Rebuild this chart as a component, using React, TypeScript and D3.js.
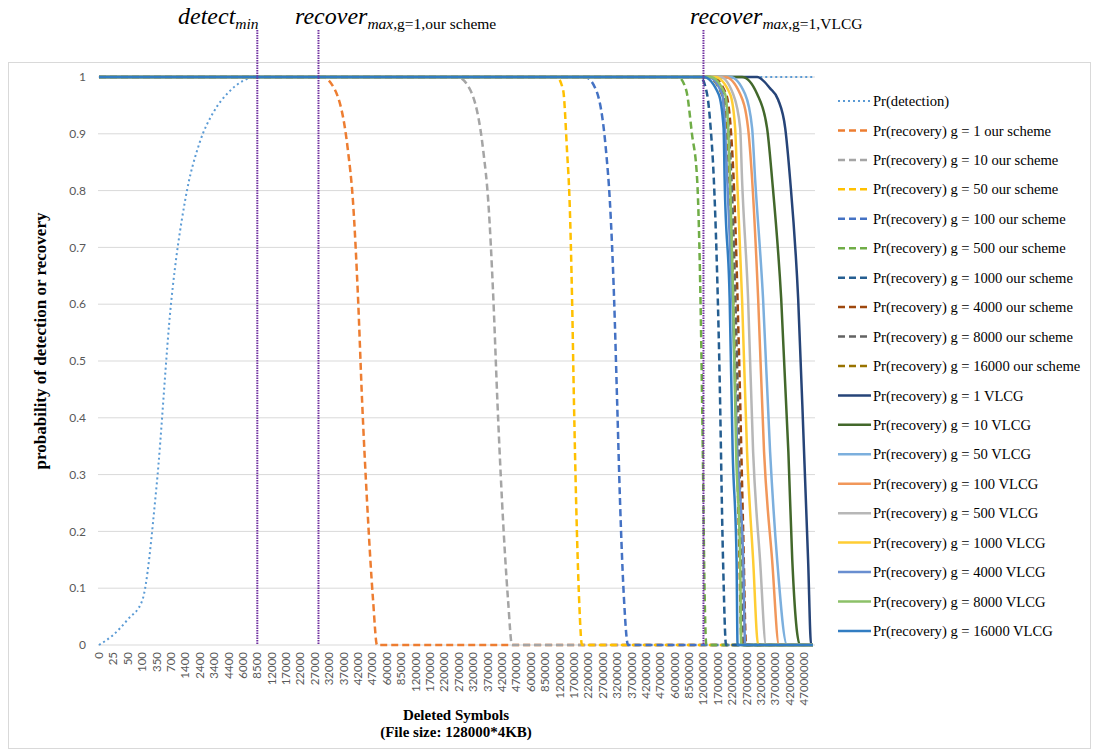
import { useEffect, useRef } from 'react'
import * as d3 from 'd3'

// x axis categories (deleted symbols)
const deletedSymbols = [
  '0', '25', '50', '100', '350', '700', '1400', '2400', '3400', '4400', '6000', '8500',
  '12000', '17000', '22000', '27000', '32000', '37000', '42000', '47000', '60000', '85000',
  '120000', '170000', '220000', '270000', '320000', '370000', '420000', '470000', '600000',
  '850000', '1200000', '1700000', '2200000', '2700000', '3200000', '3700000', '4200000',
  '4700000', '6000000', '8500000', '12000000', '17000000', '22000000', '27000000', '32000000',
  '37000000', '42000000', '47000000',
]
const yTicks = [0, 0.1, 0.2, 0.3, 0.4, 0.5, 0.6, 0.7, 0.8, 0.9, 1]

// [category position, probability]
const detection = [[0, 0], [1, 0.018], [2, 0.045], [3, 0.078], [4, 0.28], [5, 0.6], [6, 0.785], [7, 0.885], [8, 0.94], [9, 0.973], [10, 0.993], [11, 1], [49.6, 1]]
const ours1 = [[0, 1], [15.5, 1], [16.4, 0.977], [17.3, 0.87], [17.65, 0.78], [18.0, 0.61], [18.28, 0.43], [18.62, 0.255], [19.04, 0.08], [19.32, 0], [49.6, 0]]
const ours10 = [[0, 1], [24.9, 1], [25.8, 0.977], [26.7, 0.87], [27.05, 0.78], [27.4, 0.61], [27.68, 0.43], [28.0, 0.255], [28.42, 0.08], [28.7, 0], [49.6, 0]]
const ours50 = [[0, 1], [31.8, 1], [32.25, 0.977], [32.52, 0.87], [32.7, 0.78], [32.87, 0.61], [33.0, 0.43], [33.15, 0.255], [33.36, 0.08], [33.56, 0], [49.6, 0]]
const ours100 = [[0, 1], [33.77, 1], [34.54, 0.977], [35.23, 0.87], [35.5, 0.78], [35.79, 0.61], [36.0, 0.43], [36.2, 0.255], [36.48, 0.08], [36.76, 0], [49.6, 0]]
const ours500 = [[0, 1], [40.24, 1], [40.8, 0.977], [41.2, 0.9], [41.56, 0.82], [41.8, 0.6], [41.95, 0.35], [42.06, 0.12], [42.2, 0], [49.6, 0]]
const ours1000 = [[0, 1], [41.77, 1], [42.25, 0.97], [42.5, 0.91], [42.72, 0.82], [43.1, 0.5], [43.36, 0.15], [43.57, 0], [49.6, 0]]
const ours4000 = [[0, 1], [42.6, 1], [43.57, 0.97], [43.92, 0.9], [44.13, 0.8], [44.48, 0.5], [44.76, 0.2], [44.96, 0], [49.6, 0]]
const ours8000 = [[0, 1], [42.45, 1], [43.42, 0.97], [43.77, 0.9], [43.98, 0.8], [44.33, 0.5], [44.61, 0.2], [44.81, 0], [49.6, 0]]
const ours16000 = [[0, 1], [42.3, 1], [43.27, 0.97], [43.62, 0.9], [43.83, 0.8], [44.18, 0.5], [44.46, 0.2], [44.66, 0], [49.6, 0]]
const vlcg1 = [[0, 1], [45.73, 1], [46.63, 0.98], [47.19, 0.96], [47.68, 0.91], [48.02, 0.82], [48.58, 0.61], [48.99, 0.34], [49.27, 0.15], [49.48, 0], [49.6, 0]]
const vlcg10 = [[0, 1], [44.68, 1], [45.73, 0.97], [46.42, 0.91], [46.77, 0.82], [47.4, 0.61], [47.9, 0.34], [48.17, 0.15], [48.71, 0], [49.6, 0]]
const vlcg50 = [[0, 1], [43.85, 1], [44.89, 0.97], [45.38, 0.91], [45.59, 0.82], [46.14, 0.61], [46.63, 0.34], [47.12, 0.15], [47.81, 0], [49.6, 0]]
const vlcg100 = [[0, 1], [43.5, 1], [44.55, 0.97], [45.1, 0.91], [45.38, 0.82], [45.8, 0.61], [46.21, 0.34], [46.77, 0.15], [47.25, 0], [49.6, 0]]
const vlcg500 = [[0, 1], [43.16, 1], [44.06, 0.97], [44.55, 0.91], [44.68, 0.82], [45.1, 0.61], [45.45, 0.34], [45.93, 0.15], [46.35, 0], [49.6, 0]]
const vlcg1000 = [[0, 1], [42.8, 1], [43.85, 0.97], [44.2, 0.91], [44.34, 0.82], [44.68, 0.61], [45.03, 0.34], [45.45, 0.15], [45.8, 0], [49.6, 0]]
const vlcg4000 = [[0, 1], [42.32, 1], [43.3, 0.97], [43.5, 0.91], [43.65, 0.82], [44.0, 0.61], [44.35, 0.34], [44.76, 0.15], [44.9, 0], [49.6, 0]]
const vlcg8000 = [[0, 1], [42.46, 1], [43.5, 0.97], [43.72, 0.91], [43.85, 0.82], [44.06, 0.61], [44.27, 0.34], [44.55, 0.15], [44.62, 0], [49.6, 0]]
const vlcg16000 = [[0, 1], [42.0, 1], [43.05, 0.97], [43.4, 0.91], [43.47, 0.82], [43.82, 0.61], [44.03, 0.34], [44.3, 0.15], [44.37, 0], [49.6, 0]]

// vertical markers (category positions)
const markers = [11, 15.25, 42]

const series = [
  { name: 'Pr(detection)', data: detection, color: '#5B9BD5', kind: 'dot' },
  { name: 'Pr(recovery) g = 1 our scheme', data: ours1, color: '#ED7D31', kind: 'dash' },
  { name: 'Pr(recovery) g = 10 our scheme', data: ours10, color: '#A5A5A5', kind: 'dash' },
  { name: 'Pr(recovery) g = 50 our scheme', data: ours50, color: '#FFC000', kind: 'dash' },
  { name: 'Pr(recovery) g = 100 our scheme', data: ours100, color: '#4472C4', kind: 'dash' },
  { name: 'Pr(recovery) g = 500 our scheme', data: ours500, color: '#70AD47', kind: 'dash' },
  { name: 'Pr(recovery) g = 1000 our scheme', data: ours1000, color: '#255E91', kind: 'dash' },
  { name: 'Pr(recovery) g = 4000 our scheme', data: ours4000, color: '#9E480E', kind: 'dash' },
  { name: 'Pr(recovery) g = 8000 our scheme', data: ours8000, color: '#636363', kind: 'dash' },
  { name: 'Pr(recovery) g = 16000 our scheme', data: ours16000, color: '#997300', kind: 'dash' },
  { name: 'Pr(recovery) g = 1 VLCG', data: vlcg1, color: '#264478', kind: 'solid' },
  { name: 'Pr(recovery) g = 10 VLCG', data: vlcg10, color: '#43682B', kind: 'solid' },
  { name: 'Pr(recovery) g = 50 VLCG', data: vlcg50, color: '#7CAFDD', kind: 'solid' },
  { name: 'Pr(recovery) g = 100 VLCG', data: vlcg100, color: '#F1975A', kind: 'solid' },
  { name: 'Pr(recovery) g = 500 VLCG', data: vlcg500, color: '#B7B7B7', kind: 'solid' },
  { name: 'Pr(recovery) g = 1000 VLCG', data: vlcg1000, color: '#FFCD33', kind: 'solid' },
  { name: 'Pr(recovery) g = 4000 VLCG', data: vlcg4000, color: '#698ED0', kind: 'solid' },
  { name: 'Pr(recovery) g = 8000 VLCG', data: vlcg8000, color: '#8CC168', kind: 'solid' },
  { name: 'Pr(recovery) g = 16000 VLCG', data: vlcg16000, color: '#327DC2', kind: 'solid' },
]

const dashFor = (kind: string) => (kind === 'dot' ? '2 3' : kind === 'dash' ? '7 4' : null)

export default function App() {
  const svgRef = useRef<SVGSVGElement>(null)

  useEffect(() => {
    document.body.style.margin = '0'
    const svg = d3.select(svgRef.current)
    svg.selectAll('*').remove()

    const serif = '"Liberation Serif", "Times New Roman", serif'
    const sans = 'Lato, "Liberation Sans", sans-serif'

    // chart border
    svg.append('rect')
      .attr('x', 8.5).attr('y', 62.5).attr('width', 1082).attr('height', 686)
      .attr('fill', 'none').attr('stroke', '#D9D9D9')

    const x = d3.scaleLinear().domain([0, 49.75]).range([99, 815])
    const y = d3.scaleLinear().domain([0, 1]).range([645, 77])

    // gridlines
    svg.append('g')
      .selectAll('line')
      .data(yTicks)
      .enter()
      .append('line')
      .attr('x1', 98).attr('x2', 815)
      .attr('y1', d => y(d)).attr('y2', d => y(d))
      .attr('stroke', '#D9D9D9')

    // y tick labels
    svg.append('g')
      .selectAll('text')
      .data(yTicks)
      .enter()
      .append('text')
      .attr('x', 86)
      .attr('y', d => y(d))
      .attr('dy', '0.35em')
      .attr('text-anchor', 'end')
      .attr('font-family', sans)
      .attr('font-size', '12px')
      .attr('fill', '#595959')
      .text(d => String(d))

    // x tick labels, rotated
    svg.append('g')
      .selectAll('text')
      .data(deletedSymbols)
      .enter()
      .append('text')
      .attr('transform', (d, i) => `translate(${x(i) + 4},652) rotate(-90)`)
      .attr('text-anchor', 'end')
      .attr('font-family', sans)
      .attr('font-size', '11.5px')
      .attr('fill', '#595959')
      .text(d => d)

    // series
    const line = d3.line<number[]>()
      .x(d => x(d[0]))
      .y(d => y(d[1]))
      .curve(d3.curveMonotoneX)

    svg.append('g')
      .selectAll('path')
      .data(series)
      .enter()
      .append('path')
      .attr('d', d => line(d.data))
      .attr('fill', 'none')
      .attr('stroke', d => d.color)
      .attr('stroke-width', d => (d.kind === 'dot' ? 2 : 2.5))
      .attr('stroke-dasharray', d => dashFor(d.kind))
      .attr('stroke-linejoin', 'round')

    // purple markers
    svg.append('g')
      .selectAll('line')
      .data(markers)
      .enter()
      .append('line')
      .attr('x1', d => x(d)).attr('x2', d => x(d))
      .attr('y1', 30).attr('y2', 645)
      .attr('stroke', '#7030A0')
      .attr('stroke-width', 2)
      .attr('stroke-dasharray', '1.5 1')

    // annotations
    const ann = [
      { x: 178, main: 'detect', sub: 'min', rest: '' },
      { x: 295, main: 'recover', sub: 'max', rest: ',g=1,our scheme' },
      { x: 690, main: 'recover', sub: 'max', rest: ',g=1,VLCG' },
    ]
    ann.forEach(a => {
      const t = svg.append('text')
        .attr('x', a.x).attr('y', 24)
        .attr('font-family', serif)
        .attr('font-size', '24px')
        .attr('font-style', 'italic')
        .attr('fill', '#000')
        .text(a.main)
      t.append('tspan').attr('dy', 5).attr('font-size', '15.5px').text(a.sub)
      if (a.rest) t.append('tspan').attr('font-size', '15.5px').attr('font-style', 'normal').text(a.rest)
    })

    // legend
    const legend = svg.append('g')
    series.forEach((s, i) => {
      const ly = 101 + i * 29.44
      legend.append('line')
        .attr('x1', 838).attr('x2', 871)
        .attr('y1', ly).attr('y2', ly)
        .attr('stroke', s.color)
        .attr('stroke-width', s.kind === 'dot' ? 2 : 2.5)
        .attr('stroke-dasharray', dashFor(s.kind))
      legend.append('text')
        .attr('x', 873).attr('y', ly)
        .attr('dy', '0.35em')
        .attr('font-family', serif)
        .attr('font-size', '14.6px')
        .attr('fill', '#000')
        .text(s.name)
    })

    // axis titles
    svg.append('text')
      .attr('transform', 'translate(46,341) rotate(-90)')
      .attr('text-anchor', 'middle')
      .attr('font-family', serif)
      .attr('font-size', '17px')
      .attr('font-weight', 'bold')
      .text('probability of detection or recovery')

    const xt = svg.append('text')
      .attr('text-anchor', 'middle')
      .attr('font-family', serif)
      .attr('font-size', '15px')
      .attr('font-weight', 'bold')
    xt.append('tspan').attr('x', 456).attr('y', 720).text('Deleted Symbols')
    xt.append('tspan').attr('x', 456).attr('y', 737).text('(File size: 128000*4KB)')
  }, [])

  return <svg ref={svgRef} width={1093} height={751} style={{ display: 'block', background: '#fff' }} />
}
